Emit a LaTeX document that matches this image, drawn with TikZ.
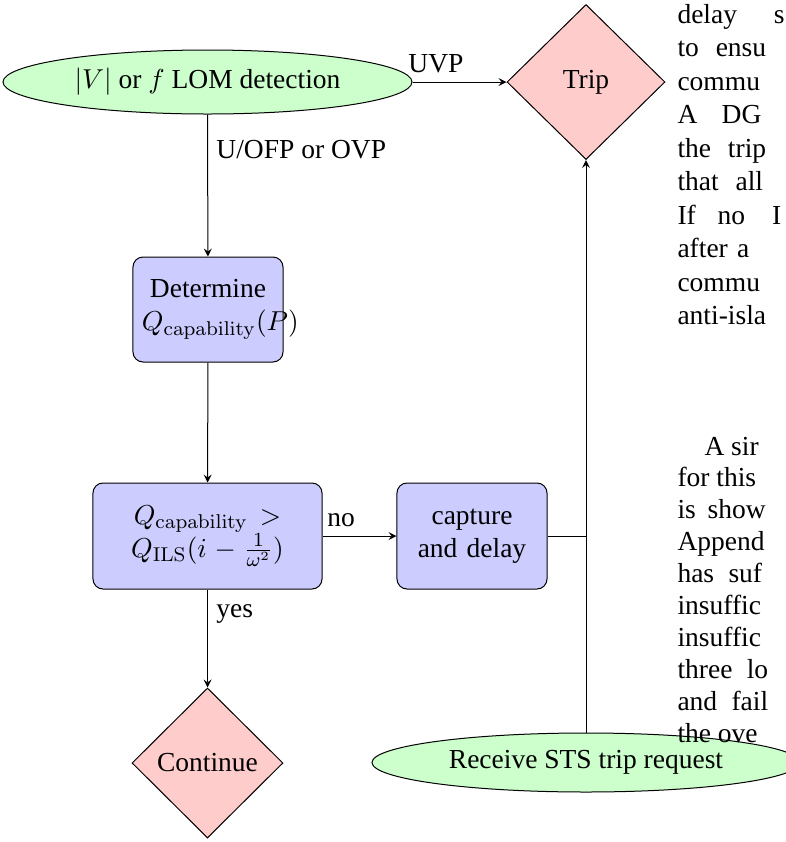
\documentclass[tikz,border=0pt]{standalone}
\usepackage[no-math]{fontspec}
\setmainfont{Liberation Serif}
\usepackage{amsmath}
\usetikzlibrary{shapes.geometric,arrows,positioning}
\tikzset{every picture/.style={>=stealth},
  label/.style={font=\fontsize{11}{13.2}\selectfont},
  terminal/.style={ellipse, draw, fill=green!20, inner sep=0pt},
  process/.style={rectangle, rounded corners=4pt, draw, fill=blue!20,
    align=center, inner sep=3.6pt},
  decision/.style={diamond, draw, fill=red!20, inner sep=0pt},
  bodytext/.style={anchor=base west, inner sep=0pt, font=\fontsize{11}{13.2}\selectfont}}
\newcommand{\js}[1]{\hspace{#1pt}}

\begin{document}
\begin{tikzpicture}[x=0.4pt,y=-0.4pt,font=\fontsize{11}{13.2}\selectfont]
  \useasboundingbox (0,0) rectangle (786,842);
  \node (lom) [terminal, minimum width=163.6pt, minimum height=25.6pt] at (207.5,82) {$|V|$ or $f$ LOM detection};
  \node (trip) [decision, minimum width=63.2pt, minimum height=62pt] at (586,82) {Trip};
  \node (det) [process, text width=52.8pt, minimum height=42pt] at (208,309.5) {Determine\\ $Q_{\mathrm{capability}}(P)$};
  \node (ils) [process, text width=84.4pt, minimum height=42.4pt] at (207.5,536) {$Q_{\mathrm{capability}}>$\\ $Q_{\mathrm{ILS}}(i-\frac{1}{\omega^2})$};
  \node (cap) [process, text width=52.8pt, minimum height=42.4pt] at (472,536) {capture\\ and delay};
  \node (cont) [decision, minimum width=60.4pt, minimum height=60pt] at (207.5,763) {Continue};
  \node (sts) [terminal, minimum width=171.2pt, minimum height=23.6pt] at (586,762.5) {Receive STS trip request};
  \draw [->] (lom) to node[label, above, near start] {UVP} (trip);
  \draw [->] (lom) to node[label, right, near start] {U/OFP or OVP} (det);
  \draw [->] (det) -- (ils);
  \draw [->] (ils) to node[label, above, near start] {no} (cap);
  \draw [->] (ils) to node[label, right, near start] {yes} (cont);
  \draw [->] (sts) -- (trip);
  \draw (cap.east) -- (cap.east -| trip.south);
  % column text behind the figure
  \foreach \t [count=\i from 0] in {delay\js{12} s, to\js4 ensu, commu, A\js7 DG, the\js4 trip,
      that\js4 all, If\js6 no\js8 I, after\js1 a, commu, anti-isla}
    \node (colA\i) [bodytext] at (677,23+33.5*\i) {\t};
  \node (colB0) [bodytext] at (704,455) {A sir};
  \foreach \t [count=\i from 1] in {for this, is\js2 show, Append, has\js3 suf, insuffic,
      insuffic, three\js3 lo, and\js3 fail, the ove}
    \node (colB\i) [bodytext] at (677,455+31.9*\i) {\t};
\end{tikzpicture}
\end{document}
